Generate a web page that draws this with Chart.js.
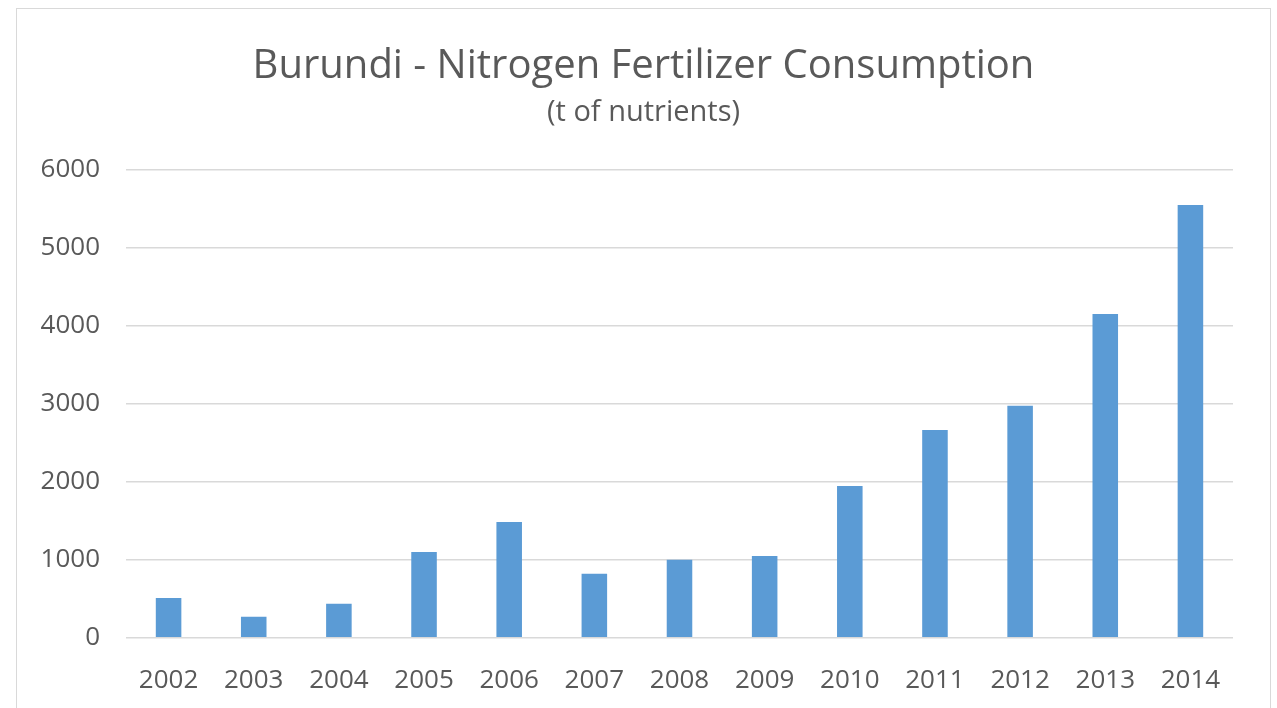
<!DOCTYPE html>
<html>
<head>
<meta charset="utf-8">
<title>Burundi - Nitrogen Fertilizer Consumption</title>
<script src="https://cdn.jsdelivr.net/npm/chart.js@4/dist/chart.umd.min.js"></script>
<style>
    html, body { margin: 0; padding: 0; background: #fff; overflow: hidden; }
    #frame {
        position: absolute;
        left: 16px;
        top: 8px;
        width: 1253px;
        height: 730px;
        border: 1px solid #d9d9d9;
        background: #fff;
    }
    #frame canvas { display: block; }
</style>
</head>
<body>
<div id="frame"><canvas id="myChart" width="1253" height="714"></canvas></div>
<script>
// chart data
const years = ['2002', '2003', '2004', '2005', '2006', '2007', '2008', '2009', '2010', '2011', '2012', '2013', '2014'];
const nitrogenTonnes = [510, 270, 435, 1100, 1485, 820, 1000, 1050, 1945, 2665, 2975, 4150, 5550];
const yTicks = [0, 1000, 2000, 3000, 4000, 5000, 6000];

const textColor = '#595959';
const gridColor = '#d9d9d9';
const fontFamily = "'Open Sans', 'Noto Sans', sans-serif";

document.addEventListener('DOMContentLoaded', function() {
    initializeChart();
});

function initializeChart() {
    const ctx = document.getElementById('myChart').getContext('2d');
    const myChart = new Chart(ctx, {
        type: 'bar',
        data: {
            labels: years,
            datasets: [{
                label: 'Nitrogen',
                data: nitrogenTonnes,
                backgroundColor: '#5b9bd5',
                borderWidth: 0,
                barPercentage: 0.3,
                categoryPercentage: 1.0
            }]
        },
        options: {
            responsive: false,
            animation: false,
            layout: {
                padding: { left: 0, right: 0, top: 34, bottom: 0 }
            },
            plugins: {
                legend: { display: false },
                tooltip: { enabled: false },
                title: {
                    display: true,
                    text: 'Burundi - Nitrogen Fertilizer Consumption',
                    color: textColor,
                    font: { family: fontFamily, size: 40, weight: 'normal' },
                    padding: { top: 0, bottom: 4 }
                },
                subtitle: {
                    display: true,
                    text: '(t of nutrients)',
                    color: textColor,
                    font: { family: fontFamily, size: 29, weight: 'normal' },
                    padding: { top: 0, bottom: 40 }
                }
            },
            scales: {
                x: {
                    grid: { display: false, drawTicks: false },
                    border: { display: false },
                    ticks: {
                        color: textColor,
                        font: { family: fontFamily, size: 26 },
                        padding: 27,
                        maxRotation: 0
                    }
                },
                y: {
                    min: 0,
                    max: 6000,
                    afterBuildTicks: function(axis) {
                        axis.ticks = yTicks.map(v => ({ value: v }));
                    },
                    afterFit: function(axis) {
                        axis.width = 109;
                    },
                    grid: { color: gridColor, lineWidth: 1.5, drawTicks: false },
                    border: { display: false },
                    ticks: {
                        color: textColor,
                        font: { family: fontFamily, size: 26 },
                        padding: 26,
                        callback: function(value) {
                            return String(value);
                        }
                    }
                },
                // empty right-hand axis, only keeps a margin right of the plot
                yRight: {
                    position: 'right',
                    grid: { display: false, drawTicks: false },
                    border: { display: false },
                    ticks: { display: false },
                    afterFit: function(axis) {
                        axis.width = 37;
                    }
                }
            }
        }
    });
}
</script>
</body>
</html>
